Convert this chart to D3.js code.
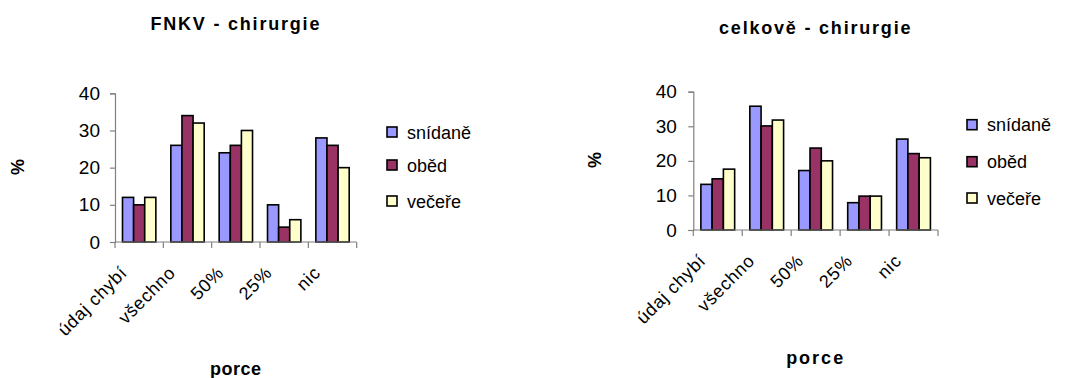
<!DOCTYPE html>
<html>
<head>
<meta charset="utf-8">
<script src="https://cdn.jsdelivr.net/npm/d3@7"></script>
<style>
  html, body { margin: 0; padding: 0; background: #fff; }
  svg { display: block; }
  text { font-family: Arial, "Liberation Sans", sans-serif; fill: #000; }
</style>
</head>
<body>
<svg id="chart" width="1065" height="378"></svg>
<script>
// Portion eaten per meal (%), surgery ward
const categories = ["údaj chybí", "všechno", "50%", "25%", "nic"];
const seriesNames = ["snídaně", "oběd", "večeře"];
const seriesColors = ["#9999FF", "#993366", "#FFFFCC"];

// FNKV - chirurgie
const fnkvSnidane = [12, 26, 24, 10, 28];
const fnkvObed    = [10, 34, 26, 4, 26];
const fnkvVecere  = [12, 32, 30, 6, 20];

// celkově - chirurgie
const celkSnidane = [13.2, 35.8, 17.2, 7.9, 26.3];
const celkObed    = [14.8, 30.1, 23.7, 9.8, 22.1];
const celkVecere  = [17.6, 31.8, 20.0, 9.8, 20.9];

const yTicks = [0, 10, 20, 30, 40];

const svg = d3.select("#chart");

function drawPanel(cfg) {
  const g = svg.append("g");
  const series = cfg.series;

  const x = d3.scaleBand().domain(categories)
    .range([cfg.left, cfg.right])
    .paddingInner(0.31).paddingOuter(0.155);
  const xs = d3.scaleBand().domain(seriesNames).range([0, x.bandwidth()]);
  const y = d3.scaleLinear().domain([0, 40]).range([cfg.bottom, cfg.top]);

  // bars
  seriesNames.forEach((name, si) => {
    g.append("g").selectAll("rect")
      .data(categories.map((c, i) => ({ c, v: series[si][i] })))
      .join("rect")
      .attr("x", d => x(d.c) + xs(name))
      .attr("y", d => y(d.v))
      .attr("width", xs.bandwidth())
      .attr("height", d => y(0) - y(d.v))
      .attr("fill", seriesColors[si])
      .attr("stroke", "#000")
      .attr("stroke-width", 1.6);
  });

  // value axis
  const yAxis = d3.axisLeft(y).tickValues(yTicks).tickSize(5).tickPadding(cfg.tickPad);
  const ya = g.append("g").attr("transform", `translate(${cfg.left},0)`).call(yAxis);
  ya.select(".domain").attr("stroke", "#808080").attr("stroke-width", 1.2);
  ya.selectAll(".tick line").attr("stroke", "#808080").attr("stroke-width", 1.2);
  ya.selectAll(".tick text")
    .style("font-size", "19px")
    .style("font-family", "Arial, 'Liberation Sans', sans-serif")
    .attr("fill", "#000");

  // category axis: line plus boundary ticks
  g.append("line")
    .attr("x1", cfg.left).attr("x2", cfg.right)
    .attr("y1", y(0)).attr("y2", y(0))
    .attr("stroke", "#808080").attr("stroke-width", 1.2);
  const bounds = categories.map(c => x(c) - x.step() * x.paddingOuter())
    .concat([cfg.right]);
  g.append("g").selectAll("line").data(bounds).join("line")
    .attr("x1", d => d).attr("x2", d => d)
    .attr("y1", y(0)).attr("y2", y(0) + 6)
    .attr("stroke", "#808080").attr("stroke-width", 1.2);

  // rotated category labels
  g.append("g").selectAll("text").data(categories).join("text")
    .attr("transform", c => `translate(${x(c) + x.bandwidth() / 2 - 11},${y(0) + 32}) rotate(-45)`)
    .attr("text-anchor", "end")
    .style("font-size", "18px")
    .style("letter-spacing", "0.7px")
    .text(c => c);

  // titles
  g.append("text")
    .attr("x", (cfg.left + cfg.right) / 2).attr("y", cfg.titleY)
    .attr("text-anchor", "middle")
    .style("font-size", "18px").style("font-weight", "bold")
    .style("letter-spacing", "1.8px")
    .text(cfg.title);

  g.append("text")
    .attr("x", (cfg.left + cfg.right) / 2).attr("y", cfg.xTitleY)
    .attr("text-anchor", "middle")
    .style("font-size", "18px").style("font-weight", "bold")
    .style("letter-spacing", cfg.xTitleSpacing)
    .text("porce");

  g.append("text")
    .attr("transform", `translate(${cfg.pctX},${cfg.pctY}) rotate(-90)`)
    .attr("text-anchor", "middle")
    .style("font-size", "18px").style("font-weight", "bold")
    .text("%");

  // legend
  const lg = g.append("g");
  seriesNames.forEach((name, si) => {
    const cy = cfg.legendY[si];
    lg.append("rect")
      .attr("x", cfg.legendX).attr("y", cy - 5)
      .attr("width", 10).attr("height", 10)
      .attr("fill", seriesColors[si])
      .attr("stroke", "#000").attr("stroke-width", 1.6);
    lg.append("text")
      .attr("x", cfg.legendX + 20).attr("y", cy + 6.5)
      .style("font-size", "18px")
      .text(name);
  });
}

drawPanel({
  series: [fnkvSnidane, fnkvObed, fnkvVecere],
  title: "FNKV - chirurgie",
  left: 115, right: 356.7, top: 93.3, bottom: 242,
  tickPad: 10,
  titleY: 30,
  xTitleY: 375, xTitleSpacing: "0.5px",
  pctX: 24, pctY: 167,
  legendX: 387, legendY: [132, 165, 201]
});

drawPanel({
  series: [celkSnidane, celkObed, celkVecere],
  title: "celkově - chirurgie",
  left: 693.3, right: 938, top: 91.7, bottom: 230,
  tickPad: 11.5,
  titleY: 34,
  xTitleY: 364, xTitleSpacing: "2px",
  pctX: 601, pctY: 160,
  legendX: 967, legendY: [124.7, 161.7, 198]
});
</script>
</body>
</html>
